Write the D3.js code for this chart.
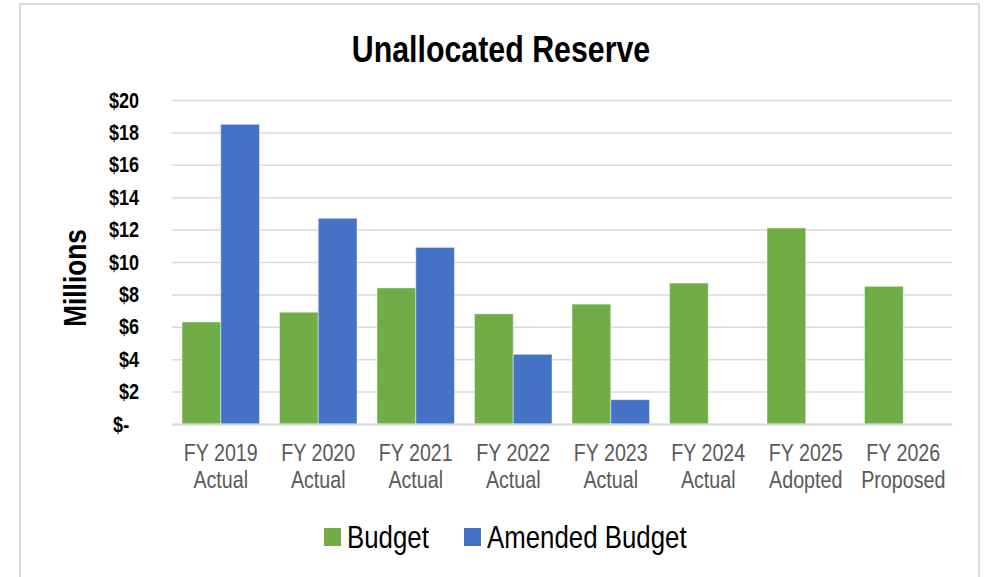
<!DOCTYPE html>
<html>
<head>
<meta charset="utf-8">
<script src="https://cdn.jsdelivr.net/npm/d3@7"></script>
<style>
  body { margin: 0; background: #fff; }
  text { font-family: "Liberation Sans", Arial, sans-serif; }
</style>
</head>
<body>
<svg width="984" height="577"></svg>
<script>
const categories = ['FY 2019|Actual', 'FY 2020|Actual', 'FY 2021|Actual', 'FY 2022|Actual',
  'FY 2023|Actual', 'FY 2024|Actual', 'FY 2025|Adopted', 'FY 2026|Proposed'];
const seriesNames = ['Budget', 'Amended Budget'];
const budget = [6.3, 6.9, 8.4, 6.8, 7.4, 8.7, 12.1, 8.5];
const amended = [18.5, 12.7, 10.9, 4.3, 1.5, null, null, null];
const yTicks = [0, 2, 4, 6, 8, 10, 12, 14, 16, 18, 20];
const colors = ['#70ad47', '#4472c4'];

const NARROW = 0.82; // no Arial Narrow installed, squeeze Liberation Sans instead

const svg = d3.select('svg');
const plot = { left: 172, right: 952, top: 100, bottom: 424 };

// chart border
svg.append('rect')
  .attr('x', 20).attr('y', 4)
  .attr('width', 959).attr('height', 600)
  .attr('fill', '#fff')
  .attr('stroke', '#d9d9d9')
  .attr('stroke-width', 2);

const x0 = d3.scaleBand().domain(categories).range([plot.left, plot.right])
  .paddingInner(0.205).paddingOuter(0.1025);
const x1 = d3.scaleBand().domain(seriesNames).range([0, x0.bandwidth()]);
const y = d3.scaleLinear().domain([0, 20]).range([plot.bottom, plot.top]);

// gridlines
const grid = svg.append('g')
  .attr('transform', `translate(${plot.left},0)`)
  .call(d3.axisLeft(y).tickValues(yTicks).tickSize(-(plot.right - plot.left)).tickFormat(''));
grid.select('.domain').remove();
grid.selectAll('line').attr('stroke', '#d9d9d9').attr('stroke-width', 1.5);

// y axis labels
const yAxis = svg.append('g')
  .attr('transform', `translate(139,0)`)
  .call(d3.axisLeft(y).tickValues(yTicks).tickSize(0).tickPadding(0)
    .tickFormat(d => d === 0 ? '$-' : '$' + d));
yAxis.select('.domain').remove();
yAxis.selectAll('text')
  .attr('font-size', 22)
  .attr('font-weight', 'bold')
  .attr('fill', '#000')
  .attr('font-family', null)
  .attr('x', d => d === 0 ? -12 : 0)
  .attr('transform', `scale(${NARROW},1)`);

// bars
const data = categories.map((c, i) => ({ cat: c, vals: [budget[i], amended[i]] }));
const groups = svg.append('g').selectAll('g')
  .data(data).join('g')
  .attr('transform', d => `translate(${x0(d.cat)},0)`);
groups.selectAll('rect')
  .data(d => d.vals.map((v, j) => ({ key: seriesNames[j], v, j })).filter(e => e.v != null))
  .join('rect')
  .attr('x', e => x1(e.key))
  .attr('y', e => y(e.v))
  .attr('width', x1.bandwidth())
  .attr('height', e => y(0) - y(e.v))
  .attr('fill', e => colors[e.j])
  .attr('stroke', '#ffffff')
  .attr('stroke-opacity', 0.45)
  .attr('stroke-width', 1);

// x axis
const xAxis = svg.append('g')
  .attr('transform', `translate(0,${plot.bottom})`)
  .call(d3.axisBottom(x0).tickSize(0).tickFormat(''));
xAxis.select('.domain').attr('stroke', '#d9d9d9').attr('stroke-width', 2);
xAxis.selectAll('.tick text').remove();
xAxis.selectAll('.tick').append('text')
  .attr('text-anchor', 'middle')
  .attr('font-size', 24)
  .attr('fill', '#595959')
  .attr('transform', `scale(${NARROW},1)`)
  .selectAll('tspan')
  .data(d => d.split('|'))
  .join('tspan')
  .attr('x', 0)
  .attr('y', (d, i) => 37 + i * 27)
  .text(d => d);

// title
svg.append('text')
  .attr('transform', `translate(501,62) scale(${NARROW},1)`)
  .attr('text-anchor', 'middle')
  .attr('font-size', 37)
  .attr('font-weight', 'bold')
  .text('Unallocated Reserve');

// y axis title
svg.append('text')
  .attr('transform', `translate(86,278) rotate(-90) scale(${NARROW},1)`)
  .attr('text-anchor', 'middle')
  .attr('font-size', 32)
  .attr('font-weight', 'bold')
  .text('Millions');

// legend
const legendX = [324, 464];
const legend = svg.append('g').selectAll('g')
  .data(seriesNames).join('g')
  .attr('transform', (d, i) => `translate(${legendX[i]},528)`);
legend.append('rect')
  .attr('width', 17).attr('height', 18)
  .attr('fill', (d, i) => colors[i]);
legend.append('text')
  .attr('transform', `translate(23,20) scale(${NARROW},1)`)
  .attr('font-size', 31.5)
  .attr('fill', '#000')
  .text(d => d);
</script>
</body>
</html>
